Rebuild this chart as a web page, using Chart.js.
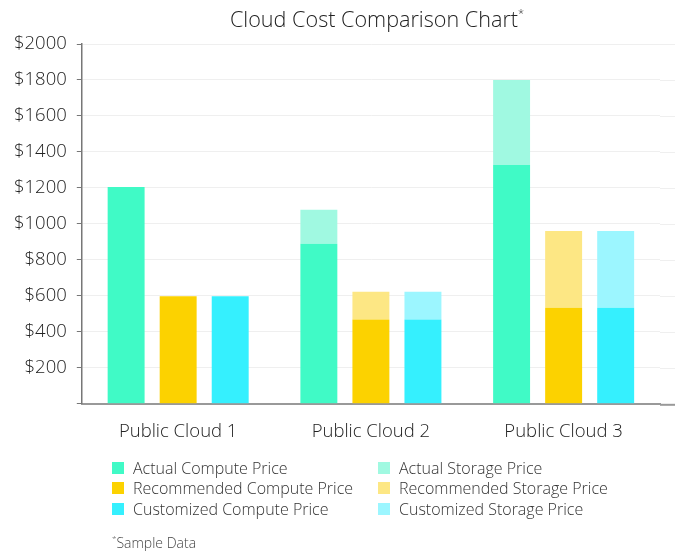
<!DOCTYPE html>
<html>
<head>
<meta charset="utf-8">
<title>Cloud Cost Comparison Chart</title>
<script src="https://cdn.jsdelivr.net/npm/chart.js@4.4.1/dist/chart.umd.min.js"></script>
<style>
  html, body { margin:0; padding:0; background:#fff; }
  body { width:678px; height:554px; position:relative; overflow:hidden; font-family:'Open Sans', sans-serif; }
  #wrap { position:absolute; left:0; top:0; width:678px; height:554px; }
  #title { position:absolute; left:0; top:4px; width:754px; text-align:center; font-size:21.6px; font-weight:300; color:#222; }
  #title sup { font-size:11px; position:relative; top:-2px; }
  #legend { position:absolute; left:112px; top:458px; display:grid; grid-template-columns:266px 260px; row-gap:1.5px; }
  .li { display:flex; align-items:center; font-size:16px; font-weight:300; color:#333; height:19px; white-space:nowrap; }
  .li i { display:inline-block; width:12px; height:12px; margin-right:9px; }
  #note { position:absolute; left:112px; top:533px; font-size:14px; font-weight:300; color:#444; }
  #note sup { font-size:8px; }
</style>
</head>
<body>
<div id="wrap"><canvas id="ch-cost" width="678" height="554"></canvas></div>
<div id="title">Cloud Cost Comparison Chart<sup>*</sup></div>
<div id="legend"></div>
<div id="note"><sup>*</sup>Sample Data</div>
<script>
// ── data ─────────────────────────────────────────────────────────────
const categories = ['Public Cloud 1', 'Public Cloud 2', 'Public Cloud 3'];
const actualCompute      = [1205, 890, 1327];
const actualStorage      = [0, 188, 473];
const recommendedCompute = [598, 468, 534];
const recommendedStorage = [0, 155, 427];
const customizedCompute  = [598, 468, 534];
const customizedStorage  = [0, 155, 427];
const yTicks = [0, 200, 400, 600, 800, 1000, 1200, 1400, 1600, 1800, 2000];

const COLORS = {
  actualC: '#40fac6', actualS: '#a0f9e1',
  recC:    '#fcd200', recS:    '#fde784',
  custC:   '#35f0fe', custS:   '#9cf6ff',
};

// gridlines / baseline run a bit past the category area
const extendGrid = {
  id: 'extendGrid',
  beforeDatasetsDraw(c) {
    const { ctx, chartArea } = c, y = c.scales.y;
    const x2 = c.width - 3;
    ctx.save();
    ctx.strokeStyle = '#efefef'; ctx.lineWidth = 1;
    yTicks.slice(1).forEach(v => {
      const py = Math.round(y.getPixelForValue(v)) + 0.5;
      ctx.beginPath(); ctx.moveTo(chartArea.right, py); ctx.lineTo(x2, py); ctx.stroke();
    });
    ctx.restore();
  },
  afterDraw(c) {
    const { ctx, chartArea } = c;
    ctx.save();
    ctx.strokeStyle = '#999'; ctx.lineWidth = 2;
    ctx.beginPath(); ctx.moveTo(chartArea.right, chartArea.bottom + 1); ctx.lineTo(c.width - 3, chartArea.bottom + 1); ctx.stroke();
    ctx.restore();
  }
};

const ds = (label, data, color, stack) => ({
  label, data, stack, backgroundColor: color, borderWidth: 0,
  categoryPercentage: 0.81, barPercentage: 0.71,
});

const chart = new Chart(document.getElementById('ch-cost').getContext('2d'), {
  type: 'bar',
  data: {
    labels: categories,
    datasets: [
      ds('Actual Compute Price',      actualCompute,      COLORS.actualC, 'actual'),
      ds('Actual Storage Price',      actualStorage,      COLORS.actualS, 'actual'),
      ds('Recommended Compute Price', recommendedCompute, COLORS.recC,    'rec'),
      ds('Recommended Storage Price', recommendedStorage, COLORS.recS,    'rec'),
      ds('Customized Compute Price',  customizedCompute,  COLORS.custC,   'cust'),
      ds('Customized Storage Price',  customizedStorage,  COLORS.custS,   'cust'),
    ]
  },
  options: {
    responsive: false, animation: false,
    layout: { padding: { top: 44, right: 18, bottom: 102, left: 4 } },
    plugins: { legend: { display: false }, tooltip: { enabled: false } },
    scales: {
      x: {
        stacked: true,
        grid: { display: false },
        border: { display: true, color: '#999', width: 2 },
        ticks: { color: '#222', padding: 9, font: { family: 'Open Sans', size: 18.5, weight: 300 } },
      },
      y: {
        stacked: true, min: 0, max: 2000,
        afterBuildTicks: s => { s.ticks = yTicks.map(v => ({ value: v })); },
        grid: { color: '#efefef', tickColor: '#777', tickLength: 5, drawTicks: true },
        border: { display: true, color: '#777', width: 1.5 },
        ticks: {
          color: '#222', padding: 10,
          font: { family: 'Open Sans', size: 18.5, weight: 300 },
          callback: v => v === 0 ? '' : '$' + v,
        },
      }
    }
  },
  plugins: [extendGrid]
});

// html legend: compute in first column, storage in second
const legendEl = document.getElementById('legend');
chart.data.datasets.forEach(d => {
  const el = document.createElement('div');
  el.className = 'li';
  el.innerHTML = '<i style="background:' + d.backgroundColor + '"></i>' + d.label;
  legendEl.appendChild(el);
});
</script>
</body>
</html>
